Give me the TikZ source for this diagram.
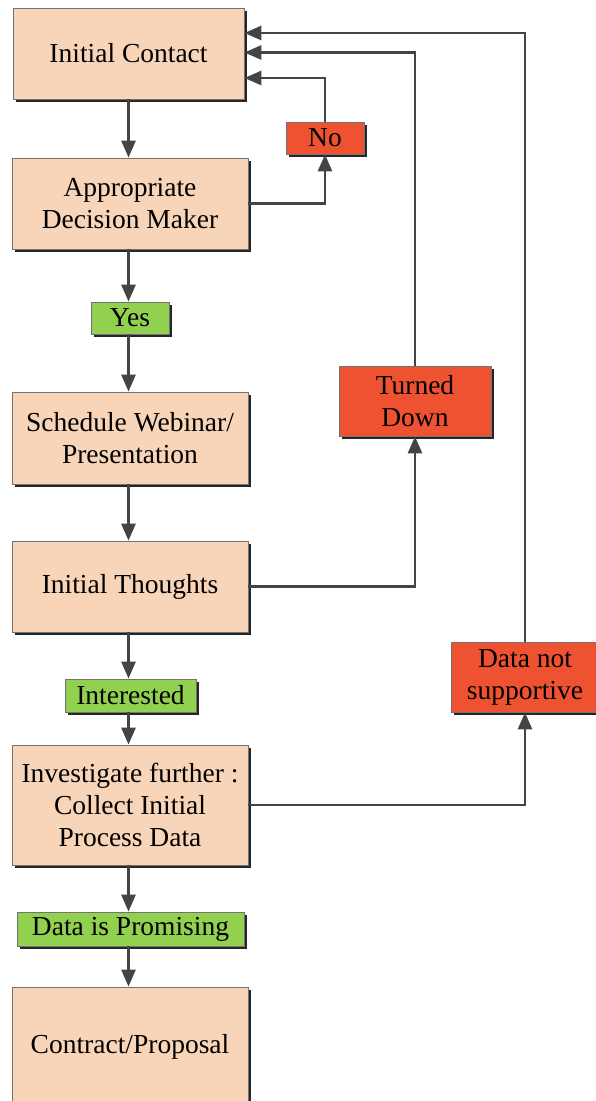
\documentclass[tikz,border=0pt]{standalone}
\usepackage{fontspec}
\setmainfont{Liberation Serif}
\usetikzlibrary{arrows.meta,shadows}
\definecolor{peach}{HTML}{F8D5B8}
\definecolor{okgreen}{HTML}{92D050}
\definecolor{badred}{HTML}{EF5231}
\definecolor{wire}{HTML}{444444}

\begin{document}
\begin{tikzpicture}
[x=1pt, y=1pt, every node/.style={inner sep=0pt, align=center, font=\fontsize{27.5}{32}\selectfont},
 boxshadow/.style={drop shadow={shadow xshift=3pt, shadow yshift=-3pt, fill=black, opacity=0.85}},
 stage/.style={rectangle, fill=peach, draw=black!55, line width=0.8pt, boxshadow},
 yesbox/.style={rectangle, fill=okgreen, draw=black!55, line width=0.8pt, boxshadow},
 nobox/.style={rectangle, fill=badred, draw=black!55, line width=0.8pt, boxshadow},
 wire/.style={line width=2.8pt, draw=wire, -{Triangle[length=17pt, width=14pt]}}]
\useasboundingbox (0,0) rectangle (596,-1101);
\node (ic) [stage, minimum width=231pt, minimum height=91pt] at (128.5, -53.5) {Initial Contact};
\node (adm) [stage, minimum width=236pt, minimum height=91pt] at (130, -203.5) {Appropriate\\Decision Maker};
\node (yes) [yesbox, minimum width=78pt, minimum height=32pt] at (130, -318) {Yes};
\node (sw) [stage, minimum width=236pt, minimum height=92pt] at (130, -438) {Schedule Webinar/\\Presentation};
\node (it) [stage, minimum width=236pt, minimum height=91pt] at (130, -586.5) {Initial Thoughts};
\node (int) [yesbox, minimum width=131pt, minimum height=33pt] at (130.5, -695.5) {Interested};
\node (inv) [stage, minimum width=236pt, minimum height=120pt] at (130, -805) {Investigate further :\\Collect Initial\\Process Data};
\node (prom) [yesbox, minimum width=227pt, minimum height=34pt] at (130.5, -929) {Data is Promising};
\node (cp) [stage, minimum width=236pt, minimum height=120pt] at (130, -1047) {Contract/Proposal};
\node (no) [nobox, minimum width=78pt, minimum height=32pt] at (325, -138) {No};
\node (td) [nobox, minimum width=152pt, minimum height=70pt] at (415, -401) {Turned\\Down};
\node (dns) [nobox, minimum width=148pt, minimum height=70pt] at (525, -677) {Data not\\supportive};
% main line
\draw [wire] (ic.south) -- (ic.south |- adm.north);
\draw [wire] (ic.south |- adm.south) -- (ic.south |- yes.north);
\draw [wire] (ic.south |- yes.south) -- (ic.south |- sw.north);
\draw [wire] (ic.south |- sw.south) -- (ic.south |- it.north);
\draw [wire] (ic.south |- it.south) -- (ic.south |- int.north);
\draw [wire] (ic.south |- int.south) -- (ic.south |- inv.north);
\draw [wire] (ic.south |- inv.south) -- (ic.south |- prom.north);
\draw [wire] (ic.south |- prom.south) -- (ic.south |- cp.north);
% way back
\draw [wire] (adm.east) -| (no.south);
\draw [wire] (no.north) |- ([yshift=-24.5pt]ic.east);
\draw [wire] (it.east) -| (td.south);
\draw [wire] (td.north) |- ([yshift=1pt]ic.east);
\draw [wire] (inv.east) -| (dns.south);
\draw [wire] (dns.north) |- ([yshift=20.5pt]ic.east);
\end{tikzpicture}
\end{document}
